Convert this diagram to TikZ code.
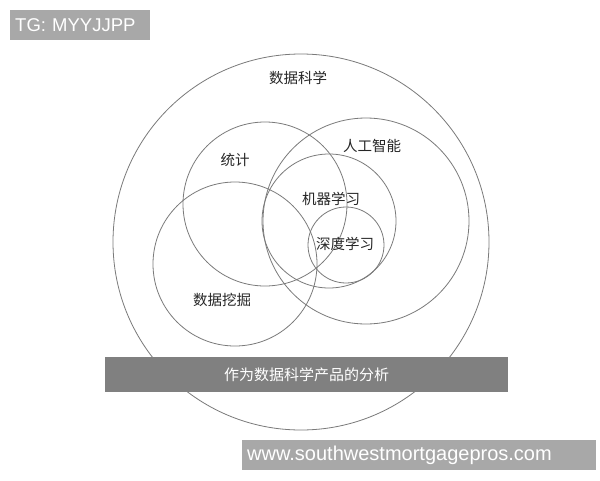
\documentclass[tikz,border=0pt]{standalone}
\usepackage{fontspec}
\setmainfont{Liberation Sans}
\newfontfamily\cjk{Noto Sans CJK SC}
\definecolor{ringgray}{HTML}{7A7A7A}
\definecolor{bargray}{HTML}{808080}
\definecolor{taggray}{HTML}{A8A8A8}
\tikzset{
  ring/.style={draw=ringgray,line width=0.8pt,circle,inner sep=0pt},
  area/.style={font=\cjk\fontsize{14.5}{16}\selectfont,text=black!85},
  badge/.style={fill=taggray,text=white,minimum height=30pt,inner xsep=5pt,align=left}
}
\begin{document}
\begin{tikzpicture}[x=1pt,y=-1pt]
  \useasboundingbox (0,0) rectangle (600,480);
  \fill[white] (0,0) rectangle (600,480);

  % circles
  \node [ring,minimum size=376pt] (ds) at (301,242) {};
  \node [ring,minimum size=164pt] (st) at (265,204) {};
  \node [ring,minimum size=206pt] (ai) at (366,221) {};
  \node [ring,minimum size=134pt] (ml) at (329,221) {};
  \node [ring,minimum size=76pt]  (dl) at (346,245) {};
  \node [ring,minimum size=164pt] (dm) at (235,264) {};

  % labels
  \node [area] (ds-l) at (298,78) {数据科学};
  \node [area] (st-l) at (235,160) {统计};
  \node [area] (ai-l) at (372,146) {人工智能};
  \node [area] (ml-l) at (331,199) {机器学习};
  \node [area] (dl-l) at (345,244) {深度学习};
  \node [area] (dm-l) at (222,300) {数据挖掘};

  \node [fill=bargray,minimum width=403pt,minimum height=35pt,text=white,
         font=\cjk\fontsize{15}{17}\selectfont] (bar) at (306.5,374.5) {作为数据科学产品的分析};

  \node [badge,text width=130pt,font=\fontsize{18.5}{20}\selectfont,anchor=north west] (tg) at (10,10) {TG: MYYJJPP};
  \node [badge,text width=344pt,font=\fontsize{20}{22}\selectfont,anchor=north west] (url) at (242,440) {www.southwestmortgagepros.com};
\end{tikzpicture}
\end{document}
